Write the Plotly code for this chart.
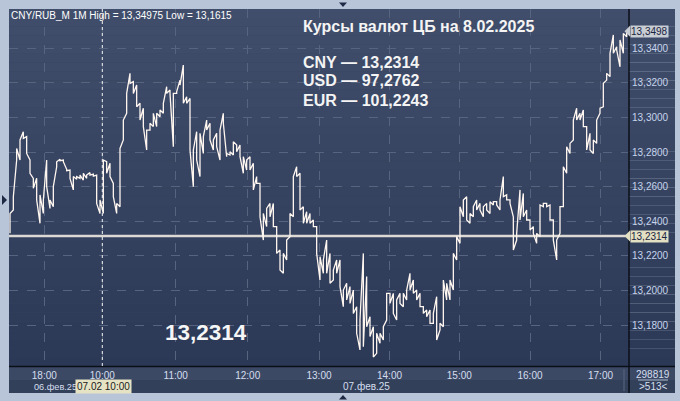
import plotly.graph_objects as go

# ---------------- data ----------------
bar_high = [13.2445, 13.2542, 13.2821, 13.2870, 13.2918, 13.2889, 13.2754, 13.2648, 13.2648, 13.2552,
            13.2523, 13.2754, 13.2523, 13.2600, 13.2744, 13.2758, 13.2754, 13.2700, 13.2696, 13.2658,
            13.2658, 13.2667, 13.2677, 13.2667, 13.2681, 13.2673, 13.2667, 13.2523, 13.2754, 13.2744,
            13.2735, 13.2619, 13.2503, 13.2821, 13.2985, 13.3139, 13.3255, 13.3207, 13.3187, 13.3082,
            13.3053, 13.2927, 13.2966, 13.3024, 13.3024, 13.3043, 13.3082, 13.3178, 13.3159, 13.3139,
            13.3149, 13.3216, 13.3303, 13.3120, 13.3110, 13.2812, 13.2918, 13.2908, 13.2889, 13.2985,
            13.2966, 13.2870, 13.2908, 13.2927, 13.3024, 13.2792, 13.2802, 13.2860, 13.2841, 13.2841,
            13.2773, 13.2754, 13.2773, 13.2735, 13.2658, 13.2619, 13.2445, 13.2474, 13.2503, 13.2503,
            13.2369, 13.2234, 13.2214, 13.2291, 13.2445, 13.2658, 13.2715, 13.2677, 13.2484, 13.2455,
            13.2445, 13.2407, 13.2369, 13.2195, 13.2176, 13.2291, 13.2214, 13.2118, 13.2176, 13.2176,
            13.2002, 13.2041, 13.2022, 13.2002, 13.1906, 13.1829, 13.2214, 13.2080, 13.1848, 13.1790,
            13.1752, 13.1752, 13.1790, 13.1983, 13.1983, 13.1983, 13.1945, 13.1983, 13.1983, 13.2002,
            13.2099, 13.2060, 13.2002, 13.1983, 13.1906, 13.1887, 13.1887, 13.1867, 13.1964, 13.1810,
            13.2060, 13.2041, 13.2060, 13.2214, 13.2311, 13.2484, 13.2523, 13.2542, 13.2445, 13.2484,
            13.2523, 13.2503, 13.2484, 13.2503, 13.2513, 13.2513, 13.2513, 13.2523, 13.2658, 13.2552,
            13.2523, 13.2426, 13.2330, 13.2581, 13.2561, 13.2465, 13.2407, 13.2369, 13.2330, 13.2494,
            13.2503, 13.2503, 13.2494, 13.2407, 13.2291, 13.2484, 13.2715, 13.2831, 13.2850, 13.2985,
            13.3053, 13.3024, 13.3043, 13.2947, 13.2908, 13.2870, 13.2985, 13.3053, 13.3197, 13.3255,
            13.3371, 13.3477, 13.3409, 13.3448, 13.3486, 13.3498]
bar_low = [13.2330, 13.2465, 13.2754, 13.2754, 13.2879, 13.2792, 13.2677, 13.2590, 13.2523, 13.2388,
           13.2445, 13.2600, 13.2474, 13.2484, 13.2715, 13.2750, 13.2744, 13.2692, 13.2648, 13.2581,
           13.2642, 13.2648, 13.2638, 13.2648, 13.2667, 13.2661, 13.2503, 13.2445, 13.2445, 13.2677,
           13.2658, 13.2542, 13.2445, 13.2484, 13.2870, 13.3024, 13.3197, 13.3139, 13.3062, 13.2985,
           13.2947, 13.2812, 13.2927, 13.2947, 13.2947, 13.3004, 13.3024, 13.3139, 13.3139, 13.2831,
           13.3139, 13.3187, 13.3082, 13.3082, 13.2812, 13.2600, 13.2754, 13.2658, 13.2792, 13.2927,
           13.2870, 13.2812, 13.2831, 13.2754, 13.2966, 13.2773, 13.2783, 13.2783, 13.2802, 13.2773,
           13.2677, 13.2696, 13.2696, 13.2581, 13.2619, 13.2426, 13.2291, 13.2369, 13.2426, 13.2369,
           13.2214, 13.2118, 13.2099, 13.2176, 13.2311, 13.2426, 13.2658, 13.2465, 13.2388, 13.2388,
           13.2388, 13.2369, 13.2214, 13.2060, 13.2099, 13.2099, 13.2041, 13.2060, 13.2099, 13.2022,
           13.1906, 13.1945, 13.1925, 13.1867, 13.1752, 13.1656, 13.1675, 13.1790, 13.1733, 13.1615,
           13.1636, 13.1694, 13.1713, 13.1829, 13.1925, 13.1867, 13.1829, 13.1925, 13.1906, 13.1945,
           13.2002, 13.1983, 13.1945, 13.1906, 13.1867, 13.1848, 13.1810, 13.1810, 13.1713, 13.1771,
           13.1790, 13.1945, 13.1945, 13.2002, 13.2176, 13.2272, 13.2426, 13.2407, 13.2388, 13.2426,
           13.2465, 13.2465, 13.2426, 13.2465, 13.2445, 13.2494, 13.2494, 13.2465, 13.2542, 13.2523,
           13.2503, 13.2234, 13.2291, 13.2407, 13.2426, 13.2407, 13.2349, 13.2330, 13.2272, 13.2311,
           13.2484, 13.2484, 13.2407, 13.2291, 13.2176, 13.2330, 13.2484, 13.2677, 13.2792, 13.2870,
           13.2985, 13.2985, 13.2947, 13.2812, 13.2812, 13.2792, 13.2850, 13.3024, 13.3062, 13.3216,
           13.3236, 13.3371, 13.3390, 13.3293, 13.3371, 13.3467]

time_labels = ["18:00", "10:00", "11:00", "12:00", "13:00", "14:00", "15:00", "16:00", "17:00"]
time_label_pos = [10.29, 27.69, 49.71, 71.31, 92.7, 113.85, 134.79, 156.0, 177.15]  # in bar-index units
date_labels = ["06.фев.25", "07.фев.25"]
cursor_label = "07.02 10:00"
price_ticks = [13.18, 13.20, 13.22, 13.24, 13.26, 13.28, 13.30, 13.32, 13.34]
last_price = 13.3498
cb_rates = [("CNY", "13,2314"), ("USD", "97,2762"), ("EUR", "101,2243")]
cb_cny = 13.2314
header = "CNY/RUB_M 1M High = 13,34975 Low = 13,1615"
title_text = "Курсы валют ЦБ на 8.02.2025"
volume_text = "298819"
bars_text = ">513<"

# ---------------- geometry helpers ----------------
W, H = 680, 401
ML, MR, MT, MB = 9, 52, 9, 35
PW, PH = W - ML - MR, H - MT - MB
Y0, Y1 = 13.1563, 13.3627


def px_x(x):
    return (x - ML) / PW


def px_y(y):
    return (H - MB - y) / PH


def hexmix(c1, c2, t):
    a = [int(c1[i:i + 2], 16) for i in (1, 3, 5)]
    b = [int(c2[i:i + 2], 16) for i in (1, 3, 5)]
    return "#" + "".join(f"{round(a[k] + (b[k] - a[k]) * t):02x}" for k in range(3))


FONT = "Liberation Sans, Arial, sans-serif"

# ---------------- price path (vertical high-low strokes) ----------------
n = len(bar_high)
xs, ys = [], []
for i in range(n):
    mid = (bar_high[i] + bar_low[i]) / 2
    nxt = (bar_high[i + 1] + bar_low[i + 1]) / 2 if i < n - 1 else last_price + 1
    pair = (bar_low[i], bar_high[i]) if nxt >= mid else (bar_high[i], bar_low[i])
    xs += [i, i]
    ys += list(pair)

fig = go.Figure()
fig.add_trace(go.Scatter(x=xs, y=ys, mode="lines",
                         line=dict(color="#fff6f0", width=1.3), hoverinfo="skip"))

shapes = []
# gradient background for plot + right axis panel
NB = 40
top_c, bot_c = "#404e6b", "#2c3956"
for k in range(NB):
    t = k / (NB - 1)
    shapes.append(dict(type="rect", xref="paper", yref="paper", layer="below",
                       x0=0, x1=px_x(675), y0=1 - (k + 1) / NB, y1=1 - k / NB,
                       fillcolor=hexmix(top_c, bot_c, t), line=dict(width=0)))
# bottom strip (two rows)
shapes.append(dict(type="rect", xref="paper", yref="paper", layer="below",
                   x0=0, x1=px_x(675), y0=px_y(380), y1=px_y(367),
                   fillcolor="#3c4965", line=dict(width=0)))
shapes.append(dict(type="rect", xref="paper", yref="paper", layer="below",
                   x0=0, x1=px_x(675), y0=px_y(393), y1=px_y(380),
                   fillcolor="#334059", line=dict(width=0)))
# black separators
shapes.append(dict(type="line", xref="paper", yref="paper", x0=px_x(629), x1=px_x(629),
                   y0=px_y(393), y1=1, line=dict(color="#0b0f18", width=1.5)))
shapes.append(dict(type="line", xref="paper", yref="paper", x0=0, x1=px_x(675),
                   y0=px_y(366.5), y1=px_y(366.5), line=dict(color="#0b0f18", width=1.5)))
shapes.append(dict(type="line", xref="paper", yref="paper", x0=px_x(624), x1=px_x(624),
                   y0=px_y(391), y1=px_y(369), line=dict(color="#5a6680", width=1)))
shapes.append(dict(type="line", xref="paper", yref="paper", x0=px_x(638), x1=px_x(668),
                   y0=px_y(380), y1=px_y(380), line=dict(color="#aebbd0", width=1)))
# CB rate line
shapes.append(dict(type="line", xref="paper", yref="y", x0=0, x1=1, y0=cb_cny, y1=cb_cny,
                   layer="between", line=dict(color="#dcd8d3", width=2.5)))
# cursor line at 10:00
shapes.append(dict(type="line", xref="x", yref="paper", x0=time_label_pos[1], x1=time_label_pos[1],
                   y0=0, y1=1, line=dict(color="#f2f2f2", width=1, dash="dot")))
# tag arrows
for val, col in ((last_price, "#c8ccd3"), (cb_cny, "#e2dfc3")):
    yc = H - MB - (val - Y0) / (Y1 - Y0) * PH
    shapes.append(dict(type="path", xref="paper", yref="paper",
                       path=f"M {px_x(624.5)} {px_y(yc)} L {px_x(630)} {px_y(yc - 5.5)} "
                            f"L {px_x(630)} {px_y(yc + 5.5)} Z",
                       fillcolor=col, line=dict(width=0)))
# small navigation triangles
tri = "#1e2944"
shapes.append(dict(type="path", xref="paper", yref="paper",
                   path=f"M {px_x(339)} {px_y(2.5)} L {px_x(347)} {px_y(2.5)} L {px_x(343)} {px_y(7)} Z",
                   fillcolor=tri, line=dict(width=0)))
shapes.append(dict(type="path", xref="paper", yref="paper",
                   path=f"M {px_x(339)} {px_y(399.5)} L {px_x(347)} {px_y(399.5)} L {px_x(343)} {px_y(395)} Z",
                   fillcolor=tri, line=dict(width=0)))
shapes.append(dict(type="path", xref="paper", yref="paper",
                   path=f"M {px_x(2)} {px_y(195)} L {px_x(7)} {px_y(200)} L {px_x(2)} {px_y(205)} Z",
                   fillcolor=tri, line=dict(width=0)))

ann = []


def text(x, y, s, size=11, color="#ffffff", bold=False, xanchor="left", **kw):
    ann.append(dict(x=px_x(x), y=px_y(y), xref="paper", yref="paper", text=f"<b>{s}</b>" if bold else s,
                    showarrow=False, xanchor=xanchor, yanchor="middle",
                    font=dict(family=FONT, size=size, color=color), **kw))


text(9, 15, header, size=10, color="#ffffff")
text(301, 26, title_text, size=16, bold=True, color="#f4f4f4")
for k, (cur, val) in enumerate(cb_rates):
    text(301, 62 + k * 19, f"{cur} — {val}", size=16, bold=True, color="#f4f4f4")
text(163, 332, "13,2314", size=22.5, bold=True, color="#f6f6f6")
text(32, 386.5, date_labels[0], size=9.2, color="#d4deee")
text(366, 386.5, date_labels[1], size=10, color="#d4deee", xanchor="center")
text(104, 386.5, cursor_label, size=10, color="#1b1b1b", xanchor="center",
     bgcolor="#e6e3c5", borderpad=1)
text(653, 374, volume_text, size=10, color="#d4deee", xanchor="center")
text(653, 386.5, bars_text, size=10, color="#d4deee", xanchor="center")
# price tags
ann.append(dict(x=px_x(630), y=last_price, xref="paper", yref="y", text=f"{last_price:.4f}".replace(".", ","),
                showarrow=False, xanchor="left", yanchor="middle", bgcolor="#c8ccd3", borderpad=0,
                font=dict(family=FONT, size=10, color="#1a2440")))
ann.append(dict(x=px_x(630), y=cb_cny, xref="paper", yref="y", text=f"{cb_cny:.4f}".replace(".", ","),
                showarrow=False, xanchor="left", yanchor="middle", bgcolor="#e2dfc3", borderpad=0,
                font=dict(family=FONT, size=10, color="#1a2440")))

fig.update_layout(
    width=W, height=H,
    margin=dict(l=ML, r=MR, t=MT, b=MB, pad=0),
    paper_bgcolor="#b8c5d8",
    plot_bgcolor="#37445f",
    showlegend=False,
    shapes=shapes,
    annotations=ann,
    xaxis=dict(range=[-0.3, 185.4], tickvals=time_label_pos, ticktext=time_labels,
               showgrid=True, gridcolor="#56647f", griddash="dash", gridwidth=1,
               zeroline=False, showline=False, ticks="", ticklabelstandoff=2,
               tickfont=dict(family=FONT, size=10, color="#d4deee"), fixedrange=True),
    yaxis=dict(range=[Y0, Y1], side="right", tickvals=price_ticks,
               ticktext=[f"{v:.4f}".replace(".", ",") for v in price_ticks],
               showgrid=True, gridcolor="#56647f", griddash="dash", gridwidth=1,
               zeroline=False, showline=False, ticks="", ticklabelstandoff=3,
               tickfont=dict(family=FONT, size=10, color="#c6d4ec"), fixedrange=True),
)

fig.write_html("out.html", config={"displayModeBar": False},
               post_script="document.body.style.margin='0';document.body.style.overflow='hidden';")
